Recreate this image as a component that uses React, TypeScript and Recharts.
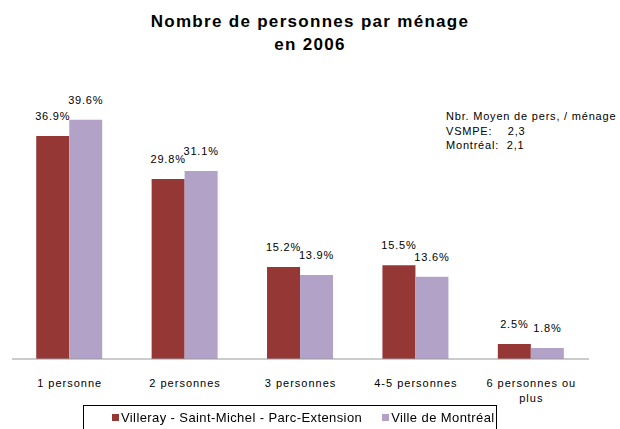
import { BarChart, Bar, XAxis, YAxis, LabelList, Text } from "recharts";

const RED = "#953735";
const PURPLE = "#B3A2C7";
const FONT = "'Liberation Sans', Arial, sans-serif";

const categories = ["1 personne", "2 personnes", "3 personnes", "4-5 personnes", "6 personnes ou plus"];
const vsmpe = [36.9, 29.8, 15.2, 15.5, 2.5];
const montreal = [39.6, 31.1, 13.9, 13.6, 1.8];
const seriesNames = ["Villeray - Saint-Michel - Parc-Extension", "Ville de Montréal"];
const noteLines = ["Nbr. Moyen de pers, / ménage", "VSMPE:    2,3", "Montréal:  2,1"];

const data = categories.map((name, i) => ({ name, vsmpe: vsmpe[i], montreal: montreal[i] }));

function CategoryTick(props: any) {
  const { x, y, payload } = props;
  return (
    <Text
      x={x}
      y={y + 12}
      width={100}
      textAnchor="middle"
      verticalAnchor="start"
      fontSize={11}
      fontFamily={FONT}
      fill="#000"
      lineHeight={15}
      style={{ letterSpacing: 1 }}
    >
      {payload.value}
    </Text>
  );
}

const labelStyle = { fontSize: 11, fontFamily: FONT, fill: "#000", letterSpacing: 0.8 };

export default function App() {
  return (
    <div style={{ position: "fixed", left: 0, top: 0, width: 620, height: 429, background: "#fff", fontFamily: FONT }}>
      <div style={{ position: "absolute", top: 10, left: 0, width: 620, textAlign: "center", fontWeight: "bold", fontSize: 17, lineHeight: "23px", letterSpacing: 1.3, color: "#000" }}>
        Nombre de personnes par ménage
        <br />
        en 2006
      </div>
      <div style={{ position: "absolute", top: 109, left: 446, fontSize: 11, lineHeight: "14.5px", letterSpacing: 0.8, color: "#000", whiteSpace: "pre" }}>
        {noteLines.join("\n")}
      </div>
      <BarChart
        width={620}
        height={429}
        data={data}
        margin={{ top: 87, right: 31, left: 12, bottom: 0 }}
        barCategoryGap="21%"
        barGap={0}
      >
        <XAxis
          dataKey="name"
          height={70}
          tickLine={false}
          axisLine={{ stroke: "#999" }}
          interval={0}
          tick={<CategoryTick />}
        />
        <YAxis hide domain={[0, 45]} />
        <Bar dataKey="vsmpe" name={seriesNames[0]} fill={RED} isAnimationActive={false}>
          <LabelList dataKey="vsmpe" position="top" offset={16} formatter={(v: any) => `${v}%`} style={labelStyle} />
        </Bar>
        <Bar dataKey="montreal" name={seriesNames[1]} fill={PURPLE} isAnimationActive={false}>
          <LabelList dataKey="montreal" position="top" offset={16} formatter={(v: any) => `${v}%`} style={labelStyle} />
        </Bar>
      </BarChart>
      <div
        style={{
          position: "absolute",
          left: 83,
          top: 405,
          width: 414,
          height: 30,
          border: "1px solid #000",
          boxSizing: "border-box",
          display: "flex",
          alignItems: "flex-start",
          paddingTop: 4,
          paddingLeft: 28,
          fontSize: 13,
          letterSpacing: 0.4,
          whiteSpace: "nowrap",
          color: "#000",
        }}
      >
        {seriesNames.map((n, i) => (
          <span key={n} style={{ display: "flex", alignItems: "center", marginRight: 20, flexShrink: 0 }}>
            <span style={{ width: 7, height: 7, background: i === 0 ? RED : PURPLE, marginRight: 2 }} />
            {n}
          </span>
        ))}
      </div>
    </div>
  );
}
